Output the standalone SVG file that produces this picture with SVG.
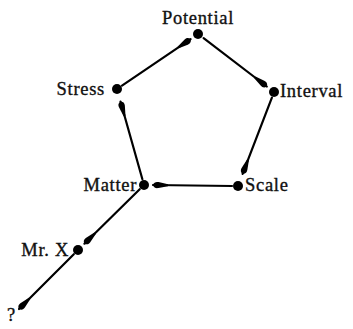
<svg xmlns="http://www.w3.org/2000/svg" width="353" height="329" viewBox="0 0 353 329">
<style>
.lbl{font-family:"Liberation Serif","DejaVu Serif",serif;font-size:18.5px;fill:#111;stroke:#111;stroke-width:0.35;letter-spacing:0.7px}
.dot{fill:#000}
.edge{stroke:#000;stroke-width:2.2;fill:none;stroke-linecap:round}
</style>
<defs>
<marker id="ah" markerUnits="userSpaceOnUse" markerWidth="18" markerHeight="10" viewBox="-16 -5 18 10" refX="0" refY="0" orient="auto">
<path d="M0,0 C-1,-3 -3,-3.4 -5.5,-3 L-15,-1 L-15,1 L-5.5,3 C-3,3.4 -1,3 0,0 Z" fill="#000"/>
</marker>
</defs>
<rect width="353" height="329" fill="#fff"/>
<g id="connectors">
<line class="edge" x1="122" y1="85.6" x2="190.6" y2="39.1" marker-end="url(#ah)"/>
<line class="edge" x1="203.6" y1="38.2" x2="266.8" y2="86.5" marker-end="url(#ah)"/>
<line class="edge" x1="271.9" y1="97.6" x2="242.6" y2="173.9" marker-end="url(#ah)"/>
<line class="edge" x1="232" y1="186" x2="153" y2="185" marker-end="url(#ah)"/>
<line class="edge" x1="142.4" y1="179.2" x2="120.5" y2="101.5" marker-end="url(#ah)"/>
<line class="edge" x1="139.7" y1="189.2" x2="84.4" y2="243.7" marker-end="url(#ah)"/>
<line class="edge" x1="73.8" y1="254.2" x2="19" y2="309" marker-end="url(#ah)"/>
</g>
<g id="potential"><circle class="dot" cx="198" cy="34" r="5"/><text class="lbl" x="198" y="24" text-anchor="middle">Potential</text></g>
<g id="interval"><circle class="dot" cx="274" cy="92" r="5"/><text class="lbl" x="280" y="97">Interval</text></g>
<g id="stress"><circle class="dot" cx="117" cy="89" r="5"/><text class="lbl" x="105" y="95" text-anchor="end">Stress</text></g>
<g id="matter"><circle class="dot" cx="144" cy="185" r="5"/><text class="lbl" x="137" y="191" text-anchor="end">Matter</text></g>
<g id="scale"><circle class="dot" cx="238" cy="186" r="5"/><text class="lbl" x="245" y="191">Scale</text></g>
<g id="mrx"><circle class="dot" cx="78" cy="250" r="5"/><text class="lbl" x="69" y="256" text-anchor="end">Mr. X</text></g>
<g id="q"><text class="lbl" x="7" y="321">?</text></g>
</svg>
